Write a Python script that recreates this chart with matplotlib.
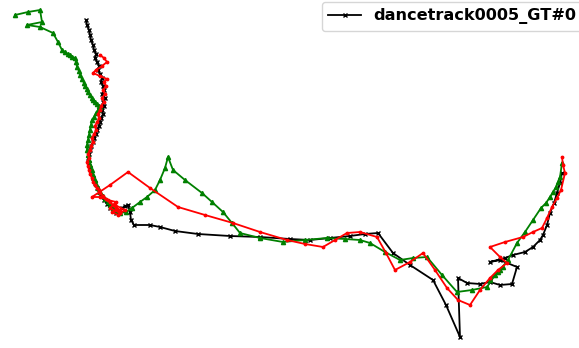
import matplotlib
matplotlib.use("Agg")
import matplotlib.pyplot as plt

# ====== trajectories (image-like coordinates, y grows downward) ======
gt_label = "dancetrack0005_GT#0"

gt_x = [86, 87, 89, 90, 91, 93, 94, 96, 95, 97, 99, 98, 100, 102, 101, 103, 104, 102, 105, 103,
        104, 102, 103, 101, 100, 99, 97, 96, 94, 93, 91, 90, 89, 88, 89, 90, 91, 93, 95, 97,
        99, 101, 104, 107, 110, 113, 116, 119, 122, 125, 128, 130, 131, 134, 150, 160, 175, 198,
        230, 260, 290, 310, 330, 350, 365, 378, 393, 410, 433, 446, 460, 458, 467, 480, 490, 500, 512,
        517, 500, 490, 505, 513, 525, 533, 540, 543, 547, 550, 554, 557, 560, 562]
gt_y = [20, 25, 30, 35, 40, 45, 50, 54, 58, 62, 66, 70, 74, 78, 82, 86, 90, 94, 98, 102,
        106, 110, 114, 118, 122, 126, 130, 134, 138, 142, 146, 150, 154, 158, 163, 168, 173, 178, 183, 188,
        192, 196, 200, 204, 208, 211, 213, 211, 208, 206, 205, 212, 220, 225, 225, 227, 231, 234,
        236, 237, 239, 240, 238, 236, 234, 233, 253, 265, 280, 305, 337, 278, 283, 284, 282, 285, 284,
        267, 260, 262, 258, 255, 252, 247, 240, 235, 225, 213, 203, 193, 183, 173]

green_x = [15, 28, 40, 42, 27, 40, 53, 58, 62, 65, 68, 70, 72, 75, 76, 77, 79, 80, 82, 84,
           85, 87, 88, 90, 92, 93, 95, 97, 99, 100, 98, 96, 94, 92, 91, 90, 89, 88, 87, 87,
           88, 89, 90, 92, 93, 95, 96, 98, 100, 103, 105, 108, 110, 113, 115, 118, 120, 126, 132, 140,
           147, 155, 160, 165, 168, 173, 185, 202, 212, 223, 232, 240, 260, 283, 305, 327, 345, 360,
           370, 385, 400, 413, 427, 442, 457, 472, 487, 495, 503, 498, 490, 500, 508, 517, 525, 533,
           541, 546, 550, 553, 556, 558, 560, 562]
green_y = [15, 12, 10, 22, 25, 27, 33, 42, 50, 52, 54, 55, 57, 58, 62, 67, 71, 75, 79, 83,
           86, 89, 92, 95, 98, 100, 102, 104, 106, 107, 110, 113, 117, 120, 125, 130, 135, 140, 145, 150,
           155, 160, 165, 170, 175, 180, 184, 188, 192, 196, 199, 202, 205, 208, 210, 212, 213, 212, 208, 202,
           197, 190, 180, 168, 157, 170, 180, 193, 202, 212, 223, 233, 238, 242, 240, 238, 239, 240,
           243, 252, 260, 258, 257, 275, 292, 290, 287, 275, 267, 272, 280, 270, 260, 243, 232, 220,
           208, 203, 197, 192, 187, 182, 177, 163]

red_x = [100, 104, 107, 102, 96, 93, 100, 107, 104, 106, 103, 105, 102, 104, 101, 100, 98, 99, 97, 95,
         96, 94, 92, 93, 91, 90, 88, 89, 87, 88, 89, 90, 92, 93, 95, 97, 99, 100, 103, 106,
         110, 113, 116, 120, 112, 118, 125, 115, 120, 110, 116, 108, 100, 92, 110, 128, 150, 178, 205, 233,
         260, 287, 305, 323, 335, 347, 360, 377, 386, 395, 410, 423, 435, 447, 458, 470, 480, 490,
         498, 507, 500, 490, 505, 523, 533, 542, 547, 552, 557, 561, 565, 563, 562]
red_y = [55, 58, 62, 66, 70, 73, 76, 79, 82, 86, 90, 94, 98, 102, 106, 110, 114, 118, 122, 126,
         130, 134, 138, 142, 146, 150, 154, 158, 162, 166, 170, 174, 178, 182, 185, 188, 190, 193, 196, 199,
         202, 205, 208, 210, 212, 215, 210, 205, 213, 208, 202, 200, 197, 197, 185, 172, 188, 207, 215, 223,
         232, 240, 244, 247, 240, 233, 232, 237, 253, 270, 262, 253, 270, 288, 300, 305, 290, 278,
         270, 263, 257, 247, 242, 237, 232, 228, 218, 207, 198, 190, 173, 165, 157]

fig = plt.figure(figsize=(5.79, 3.48), dpi=100)
ax = fig.add_axes([0, 0, 1, 1])

ax.plot(gt_x, gt_y, color="black", marker="x", markersize=3, linewidth=1.3, label=gt_label)
ax.plot(green_x, green_y, color="green", marker="^", markersize=3, linewidth=1.3)
ax.plot(red_x, red_y, color="red", marker=".", markersize=3.5, linewidth=1.3)

ax.set_xlim(0, 579)
ax.set_ylim(348, 0)
ax.axis("off")

ax.legend(loc="upper left", bbox_to_anchor=(322 / 579, 1 - 2 / 348),
          prop={"weight": "bold", "size": 11.6}, frameon=True, handlelength=2.0,
          borderaxespad=0)

fig.savefig("out.png", dpi=100)
